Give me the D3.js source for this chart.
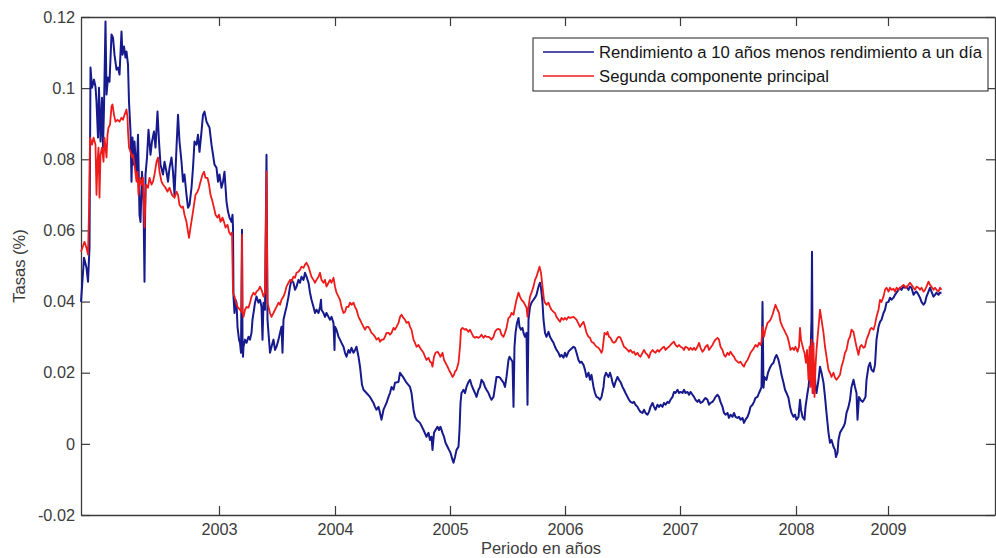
<!DOCTYPE html>
<html>
<head>
<meta charset="utf-8">
<script src="https://cdn.jsdelivr.net/npm/d3@7"></script>
<style>
  body { margin: 0; background: #fff; }
  svg { display: block; font-family: "Liberation Sans", Arial, Helvetica, sans-serif; }
</style>
</head>
<body>
<svg id="chart" width="996" height="558"></svg>
<script>
// Horizontal position is a trading-day counter starting in late 2001.
const dayRange = [0, 1828];
const yearTickDays = [276, 508, 738, 968, 1198, 1430, 1614];
const yearLabels = ["2003", "2004", "2005", "2006", "2007", "2008", "2009"];

const rateRange = [-0.02, 0.12];
const rateTicks = [0.12, 0.1, 0.08, 0.06, 0.04, 0.02, 0, -0.02];
const rateLabels = ["0.12", "0.1", "0.08", "0.06", "0.04", "0.02", "0", "-0.02"];

const seriesNames = [
  "Rendimiento a 10 años menos rendimiento a un día",
  "Segunda componente principal"
];
const seriesColors = ["#161a8c", "#ee1b1b"];

// 10-year minus overnight yield: [trading day, rate]
const spread = [[0,.0399],[6,.0523],[11,.0495],[14,.0456],[17,.0551],[19,.1058],[22,.1001],[26,.1024],[29,.1004],[31,.0962],[34,.0861],[36,.1001],[39,.0850],[42,.0973],[44,.0833],[46,.0945],[49,.1187],[51,.0982],[54,.1030],[57,.1018],[61,.1151],[64,.1142],[67,.1094],[71,.1052],[74,.1058],[77,.1038],[81,.1159],[83,.1094],[86,.1117],[89,.1086],[91,.1103],[94,.1066],[96,.0962],[99,.0878],[101,.0737],[103,.0861],[105,.0785],[107,.0850],[111,.0757],[114,.0869],[117,.0644],[119,.0624],[122,.0765],[125,.0681],[127,.0456],[129,.0757],[132,.0805],[135,.0883],[139,.0813],[142,.0850],[146,.0878],[149,.0833],[153,.0934],[156,.0850],[159,.0785],[164,.0757],[167,.0793],[171,.0765],[174,.0737],[177,.0776],[181,.0805],[184,.0765],[187,.0700],[191,.0833],[194,.0925],[197,.0850],[201,.0793],[204,.0737],[207,.0757],[211,.0700],[214,.0664],[217,.0672],[221,.0720],[224,.0776],[227,.0850],[231,.0841],[234,.0869],[237,.0821],[241,.0878],[244,.0925],[247,.0934],[251,.0906],[254,.0897],[257,.0889],[261,.0841],[264,.0813],[267,.0785],[271,.0776],[274,.0737],[277,.0757],[281,.0720],[284,.0737],[287,.0765],[291,.0681],[294,.0653],[297,.0636],[301,.0624],[303,.0644],[304,.0608],
[305,.0414],[307,.0368],[309,.0405],[311,.0397],[313,.0329],[316,.0293],[318,.0284],[320,.0256],[322,.0602],[323,.0293],[324,.0245],[325,.0273],[328,.0293],[331,.0284],[335,.0301],[338,.0293],[341,.0312],[343,.0349],[346,.0377],[348,.0397],[351,.0414],[355,.0397],[358,.0405],[361,.0385],[363,.0293],[365,.0397],[368,.0377],[371,.0813],[373,.0349],[376,.0293],[378,.0256],[381,.0273],[385,.0293],[388,.0264],[391,.0273],[395,.0293],[398,.0312],[401,.0329],[403,.0256],[405,.0349],[408,.0368],[411,.0385],[415,.0414],[418,.0442],[421,.0461],[425,.0453],[428,.0433],[431,.0442],[435,.0461],[438,.0453],[441,.0470],[445,.0461],[448,.0481],[451,.0470],[455,.0453],[458,.0425],[461,.0405],[465,.0385],[468,.0368],[471,.0377],[475,.0368],[478,.0385],[480,.0405],[481,.0377],[485,.0368],[488,.0357],[491,.0368],[495,.0357],[498,.0349],[501,.0357],[505,.0340],[507,.0264],[508,.0329],[511,.0321],[515,.0301],[518,.0293],[521,.0284],[525,.0273],[528,.0256],[531,.0245],[535,.0264],[538,.0256],[541,.0270],[545,.0256],[548,.0264],[551,.0273],[555,.0245],[558,.0217],[562,.0166],[565,.0152],[571,.0143],[578,.0132],[585,.0115],[588,.0104],[591,.0096],[595,.0104],[598,.0087],[601,.0068],[605,.0096],[611,.0115],[615,.0132],[618,.0143],[621,.0160],[625,.0152],[628,.0172],[635,.0174],[638,.0200],[645,.0186],[651,.0172],[658,.0160],[661,.0143],[665,.0096],[668,.0076],[671,.0068],[678,.0059],[685,.0039],[691,.0020],[695,.0031],[698,.0011],[701,.0020],[703,-.0017],[706,.0031],[709,.0039],[713,.0048],[716,.0039],[719,.0048],[723,.0031],[726,.0020],[729,.0003],[733,-.0008],[736,-.0017],[739,-.0025],[743,-.0045],[745,-.0053],[748,-.0037],[751,-.0017],[755,-.0008],[757,.0039],[759,.0115],[761,.0143],[765,.0152],[768,.0143],[771,.0160],[775,.0174],[778,.0180],[781,.0166],[785,.0152],[788,.0143],[791,.0132],[795,.0152],[798,.0160],[801,.0180],[805,.0172],[808,.0160],[811,.0152],[815,.0143],[818,.0132],[821,.0124],[825,.0132],[828,.0160],[831,.0188],[835,.0188],[838,.0186],[841,.0180],[845,.0172],[848,.0160],[851,.0188],[855,.0236],[857,.0245],[861,.0236],[863,.0231],[865,.0104],[867,.0273],[869,.0312],[872,.0340],[875,.0354],[877,.0329],[880,.0321],[883,.0326],[885,.0312],[888,.0301],[891,.0312],[893,.0110],[895,.0349],[898,.0385],[901,.0397],[905,.0405],[908,.0411],[911,.0419],[915,.0442],[918,.0453],[920,.0439],[923,.0397],[925,.0349],[928,.0312],[931,.0301],[935,.0315],[938,.0301],[941,.0293],[945,.0284],[948,.0273],[951,.0264],[955,.0256],[958,.0245],[961,.0250],[965,.0242],[968,.0256],[971,.0245],[975,.0259],[978,.0264],[985,.0273],[988,.0270],[991,.0256],[995,.0236],[998,.0228],[1001,.0231],[1005,.0222],[1008,.0208],[1011,.0188],[1015,.0200],[1018,.0180],[1021,.0194],[1025,.0160],[1028,.0143],[1031,.0132],[1035,.0129],[1038,.0124],[1041,.0132],[1045,.0160],[1047,.0188],[1050,.0200],[1055,.0188],[1058,.0200],[1061,.0186],[1063,.0172],[1066,.0160],[1069,.0174],[1073,.0188],[1076,.0180],[1079,.0174],[1083,.0160],[1086,.0152],[1089,.0143],[1093,.0132],[1096,.0124],[1099,.0118],[1103,.0115],[1106,.0118],[1109,.0110],[1113,.0104],[1116,.0096],[1119,.0090],[1123,.0087],[1126,.0096],[1129,.0087],[1133,.0082],[1136,.0090],[1139,.0104],[1143,.0115],[1146,.0104],[1149,.0096],[1153,.0110],[1156,.0104],[1159,.0110],[1163,.0104],[1166,.0115],[1169,.0110],[1173,.0118],[1176,.0115],[1179,.0124],[1183,.0132],[1186,.0146],[1189,.0143],[1193,.0152],[1196,.0143],[1199,.0146],[1203,.0143],[1206,.0152],[1209,.0143],[1213,.0146],[1216,.0138],[1219,.0146],[1223,.0138],[1226,.0132],[1229,.0124],[1233,.0118],[1236,.0124],[1239,.0115],[1243,.0118],[1246,.0124],[1249,.0129],[1253,.0124],[1256,.0110],[1259,.0115],[1263,.0118],[1266,.0124],[1269,.0132],[1273,.0138],[1276,.0132],[1279,.0118],[1283,.0104],[1286,.0087],[1289,.0082],[1293,.0087],[1296,.0073],[1299,.0082],[1303,.0076],[1306,.0087],[1309,.0076],[1313,.0073],[1316,.0076],[1319,.0068],[1323,.0073],[1326,.0059],[1329,.0068],[1333,.0076],[1336,.0087],[1339,.0104],[1343,.0110],[1346,.0118],[1349,.0129],[1353,.0132],[1356,.0143],[1359,.0152],[1361,.0160],[1363,.0399],[1365,.0158],[1367,.0188],[1371,.0180],[1374,.0200],[1378,.0214],[1381,.0222],[1385,.0228],[1388,.0242],[1391,.0250],[1395,.0236],[1398,.0217],[1401,.0194],[1405,.0172],[1408,.0152],[1411,.0143],[1415,.0129],[1418,.0104],[1421,.0087],[1425,.0076],[1428,.0082],[1431,.0068],[1435,.0076],[1438,.0124],[1440,.0096],[1443,.0076],[1447,.0068],[1449,.0104],[1453,.0143],[1455,.0160],[1458,.0200],[1461,.0349],[1462,.0540],[1463,.0293],[1465,.0143],[1467,.0217],[1469,.0160],[1471,.0143],[1475,.0180],[1478,.0217],[1481,.0200],[1485,.0172],[1488,.0132],[1491,.0087],[1495,.0031],[1498,.0003],[1501,.0011],[1505,-.0008],[1508,-.0017],[1510,-.0037],[1513,-.0025],[1515,.0011],[1518,.0031],[1521,.0039],[1525,.0048],[1528,.0059],[1531,.0087],[1535,.0104],[1538,.0124],[1541,.0160],[1545,.0180],[1548,.0160],[1551,.0143],[1553,.0068],[1556,.0132],[1559,.0124],[1563,.0118],[1566,.0124],[1569,.0132],[1571,.0180],[1575,.0217],[1578,.0228],[1581,.0208],[1585,.0203],[1588,.0222],[1591,.0293],[1595,.0329],[1598,.0343],[1601,.0349],[1605,.0368],[1608,.0377],[1611,.0397],[1615,.0399],[1618,.0411],[1621,.0405],[1625,.0411],[1628,.0419],[1631,.0425],[1635,.0433],[1638,.0439],[1641,.0433],[1645,.0442],[1648,.0439],[1651,.0442],[1655,.0433],[1658,.0442],[1661,.0439],[1665,.0419],[1668,.0425],[1671,.0428],[1675,.0419],[1678,.0411],[1681,.0399],[1685,.0391],[1688,.0397],[1691,.0414],[1695,.0428],[1698,.0439],[1701,.0428],[1705,.0414],[1708,.0419],[1711,.0425],[1715,.0419],[1718,.0425],[1721,.0425]];

// Second principal component: [trading day, rate]
const component = [[0,.0540],[7,.0568],[11,.0551],[14,.0532],[16,.0653],[18,.0861],[22,.0841],[25,.0861],[29,.0841],[31,.0700],[33,.0793],[35,.0833],[37,.0692],[39,.0813],[42,.0833],[45,.0793],[47,.0861],[51,.0805],[53,.0869],[55,.0889],[58,.0897],[61,.0948],[63,.0954],[66,.0925],[69,.0906],[73,.0911],[77,.0906],[81,.0917],[84,.0911],[87,.0925],[91,.0940],[93,.0917],[94,.0878],[96,.0833],[99,.0821],[102,.0805],[104,.0813],[107,.0785],[111,.0737],[113,.0765],[115,.0700],[118,.0748],[121,.0729],[124,.0748],[127,.0608],[130,.0729],[134,.0720],[137,.0748],[141,.0729],[144,.0737],[147,.0757],[151,.0793],[154,.0805],[157,.0765],[161,.0737],[164,.0729],[169,.0720],[173,.0709],[177,.0720],[182,.0700],[187,.0692],[191,.0709],[194,.0700],[197,.0672],[201,.0664],[204,.0667],[207,.0644],[211,.0624],[214,.0596],[216,.0579],[219,.0608],[223,.0644],[226,.0672],[229,.0700],[233,.0709],[236,.0720],[239,.0737],[243,.0757],[246,.0765],[249,.0748],[253,.0748],[256,.0729],[259,.0700],[263,.0681],[266,.0664],[269,.0644],[273,.0636],[276,.0644],[279,.0624],[283,.0636],[286,.0624],[289,.0608],[293,.0616],[296,.0596],[299,.0588],[302,.0594],[304,.0425],[307,.0414],[310,.0397],[313,.0385],[318,.0377],[321,.0371],[322,.0588],[323,.0371],[325,.0357],[328,.0377],[331,.0385],[335,.0383],[338,.0397],[341,.0414],[345,.0425],[348,.0419],[351,.0428],[355,.0433],[358,.0442],[361,.0433],[365,.0414],[368,.0425],[371,.0765],[373,.0397],[375,.0385],[378,.0368],[381,.0357],[385,.0368],[388,.0377],[391,.0385],[395,.0397],[398,.0391],[401,.0405],[405,.0414],[408,.0425],[411,.0442],[415,.0453],[418,.0461],[421,.0456],[425,.0470],[428,.0467],[431,.0481],[435,.0484],[438,.0489],[441,.0498],[445,.0495],[448,.0504],[451,.0509],[455,.0498],[458,.0484],[461,.0470],[465,.0461],[468,.0453],[471,.0461],[475,.0470],[478,.0481],[481,.0461],[485,.0453],[488,.0461],[491,.0442],[495,.0453],[498,.0461],[501,.0453],[505,.0467],[508,.0442],[511,.0425],[515,.0414],[518,.0405],[521,.0385],[525,.0368],[528,.0371],[531,.0385],[535,.0385],[538,.0397],[541,.0391],[545,.0397],[548,.0385],[551,.0377],[555,.0357],[558,.0349],[561,.0340],[565,.0329],[568,.0321],[571,.0329],[575,.0329],[578,.0321],[581,.0312],[585,.0307],[588,.0301],[591,.0293],[595,.0298],[598,.0287],[601,.0293],[605,.0293],[608,.0301],[611,.0312],[615,.0312],[618,.0307],[621,.0312],[625,.0326],[628,.0321],[631,.0329],[635,.0340],[638,.0357],[641,.0363],[645,.0354],[648,.0349],[651,.0340],[655,.0343],[658,.0329],[661,.0321],[665,.0293],[668,.0284],[671,.0273],[675,.0278],[678,.0270],[681,.0264],[685,.0256],[688,.0245],[691,.0236],[695,.0242],[698,.0231],[701,.0228],[703,.0217],[706,.0245],[709,.0256],[713,.0259],[716,.0253],[719,.0245],[723,.0256],[726,.0236],[729,.0228],[733,.0217],[736,.0208],[739,.0200],[743,.0188],[746,.0194],[748,.0203],[751,.0208],[755,.0228],[758,.0273],[760,.0321],[763,.0326],[768,.0321],[770,.0323],[775,.0315],[778,.0321],[781,.0312],[785,.0301],[788,.0298],[791,.0301],[795,.0298],[798,.0301],[801,.0307],[805,.0298],[808,.0304],[811,.0301],[815,.0301],[818,.0298],[821,.0293],[825,.0301],[828,.0315],[831,.0321],[835,.0323],[838,.0321],[841,.0307],[845,.0301],[848,.0312],[851,.0326],[855,.0354],[858,.0357],[861,.0368],[865,.0363],[868,.0385],[871,.0405],[875,.0425],[878,.0414],[881,.0405],[885,.0399],[888,.0391],[891,.0383],[893,.0357],[895,.0385],[898,.0414],[901,.0425],[905,.0442],[908,.0461],[911,.0470],[915,.0489],[917,.0498],[920,.0481],[923,.0442],[926,.0405],[928,.0397],[931,.0391],[935,.0397],[938,.0385],[941,.0377],[945,.0371],[948,.0368],[951,.0357],[955,.0349],[958,.0343],[961,.0354],[965,.0349],[968,.0354],[971,.0349],[975,.0357],[978,.0354],[985,.0357],[991,.0349],[998,.0329],[1005,.0343],[1008,.0329],[1011,.0312],[1015,.0301],[1018,.0298],[1021,.0287],[1025,.0284],[1028,.0278],[1031,.0273],[1035,.0270],[1038,.0264],[1041,.0256],[1043,.0264],[1047,.0312],[1051,.0307],[1053,.0315],[1056,.0301],[1059,.0298],[1063,.0287],[1066,.0284],[1069,.0287],[1073,.0298],[1076,.0301],[1079,.0298],[1083,.0284],[1086,.0273],[1089,.0270],[1093,.0264],[1096,.0259],[1099,.0264],[1103,.0256],[1106,.0259],[1109,.0250],[1113,.0256],[1116,.0248],[1119,.0245],[1123,.0256],[1126,.0264],[1129,.0256],[1133,.0250],[1136,.0242],[1139,.0256],[1143,.0264],[1146,.0259],[1149,.0256],[1153,.0264],[1156,.0259],[1159,.0264],[1163,.0270],[1166,.0273],[1169,.0264],[1173,.0270],[1176,.0273],[1179,.0278],[1183,.0284],[1186,.0287],[1189,.0278],[1193,.0273],[1196,.0278],[1199,.0273],[1203,.0270],[1206,.0264],[1209,.0273],[1213,.0270],[1216,.0264],[1219,.0270],[1223,.0264],[1226,.0270],[1229,.0264],[1233,.0273],[1236,.0284],[1239,.0270],[1243,.0259],[1246,.0264],[1249,.0273],[1253,.0278],[1256,.0264],[1259,.0270],[1263,.0278],[1266,.0287],[1269,.0293],[1273,.0298],[1276,.0293],[1279,.0273],[1283,.0264],[1286,.0250],[1289,.0245],[1293,.0256],[1296,.0250],[1299,.0259],[1303,.0250],[1306,.0245],[1309,.0236],[1313,.0231],[1316,.0228],[1319,.0231],[1323,.0222],[1326,.0217],[1329,.0228],[1333,.0236],[1336,.0245],[1339,.0256],[1343,.0264],[1346,.0270],[1349,.0278],[1353,.0273],[1356,.0284],[1359,.0278],[1361,.0287],[1363,.0329],[1366,.0301],[1369,.0321],[1373,.0340],[1376,.0343],[1379,.0349],[1383,.0363],[1386,.0377],[1389,.0391],[1393,.0377],[1396,.0368],[1399,.0343],[1403,.0329],[1406,.0321],[1409,.0312],[1413,.0301],[1416,.0284],[1419,.0264],[1423,.0270],[1426,.0264],[1429,.0273],[1433,.0259],[1436,.0273],[1438,.0326],[1440,.0293],[1445,.0264],[1447,.0256],[1450,.0228],[1452,.0264],[1455,.0180],[1457,.0273],[1459,.0160],[1461,.0293],[1463,.0143],[1465,.0284],[1467,.0132],[1469,.0217],[1471,.0264],[1475,.0329],[1478,.0377],[1481,.0349],[1485,.0312],[1488,.0273],[1491,.0245],[1495,.0208],[1498,.0200],[1501,.0188],[1505,.0200],[1508,.0186],[1511,.0180],[1515,.0188],[1518,.0194],[1521,.0217],[1525,.0236],[1528,.0256],[1531,.0264],[1535,.0293],[1538,.0301],[1541,.0321],[1545,.0315],[1548,.0293],[1551,.0273],[1555,.0250],[1558,.0273],[1561,.0278],[1565,.0270],[1568,.0273],[1571,.0293],[1575,.0307],[1578,.0321],[1581,.0326],[1585,.0321],[1588,.0335],[1591,.0357],[1595,.0377],[1598,.0405],[1601,.0399],[1605,.0414],[1608,.0433],[1611,.0439],[1615,.0428],[1618,.0439],[1621,.0433],[1625,.0436],[1628,.0428],[1631,.0439],[1635,.0433],[1638,.0439],[1641,.0442],[1645,.0447],[1648,.0442],[1651,.0439],[1655,.0447],[1658,.0453],[1661,.0447],[1665,.0439],[1668,.0433],[1671,.0442],[1675,.0439],[1678,.0433],[1681,.0439],[1685,.0428],[1688,.0433],[1691,.0442],[1695,.0456],[1698,.0447],[1701,.0442],[1705,.0433],[1708,.0439],[1711,.0433],[1715,.0428],[1718,.0439],[1721,.0433]];

const svg = d3.select("#chart");
const margin = { left: 81, right: 1, top: 17, bottom: 43 };
const W = +svg.attr("width"), H = +svg.attr("height");
const x0 = margin.left, x1 = W - margin.right;
const y0 = margin.top, y1 = H - margin.bottom;

const x = d3.scaleLinear().domain(dayRange).range([x0, x1]);
const y = d3.scaleLinear().domain(rateRange).range([y1, y0]);

const tickLen = 9;
const axisColor = "#3a3a3a";
const labelColor = "#3c3c3c";
const fontSize = 16.3;

function styleAxis(g) {
  g.select(".domain").attr("stroke", axisColor).attr("stroke-width", 1.3);
  g.selectAll(".tick line").attr("stroke", axisColor).attr("stroke-width", 1.2);
  g.selectAll(".tick text").attr("fill", labelColor).attr("font-size", fontSize)
    .attr("font-family", "\"Liberation Sans\", Arial, sans-serif");
}

// Bottom axis with year labels, ticks pointing inward
svg.append("g")
  .attr("transform", `translate(0,${y1})`)
  .call(d3.axisBottom(x).tickValues(yearTickDays)
    .tickFormat((d, i) => yearLabels[i])
    .tickSizeInner(-tickLen).tickSizeOuter(0).tickPadding(8))
  .call(styleAxis);

// Top frame edge
svg.append("g")
  .attr("transform", `translate(0,${y0})`)
  .call(d3.axisTop(x).tickValues(yearTickDays).tickFormat("")
    .tickSizeInner(-tickLen).tickSizeOuter(0))
  .call(styleAxis);

// Left axis with rate labels
svg.append("g")
  .attr("transform", `translate(${x0},0)`)
  .call(d3.axisLeft(y).tickValues(rateTicks)
    .tickFormat((d, i) => rateLabels[i])
    .tickSizeInner(-tickLen).tickSizeOuter(0).tickPadding(6))
  .call(styleAxis);

// Right frame edge
svg.append("g")
  .attr("transform", `translate(${x1},0)`)
  .call(d3.axisRight(y).tickValues(rateTicks).tickFormat("")
    .tickSizeInner(-tickLen).tickSizeOuter(0))
  .call(styleAxis);

// Series
const line = d3.line().x(d => x(d[0])).y(d => y(d[1]));

svg.append("path")
  .datum(spread)
  .attr("fill", "none")
  .attr("stroke", seriesColors[0])
  .attr("stroke-width", 2)
  .attr("stroke-linejoin", "round")
  .attr("d", line);

svg.append("path")
  .datum(component)
  .attr("fill", "none")
  .attr("stroke", seriesColors[1])
  .attr("stroke-width", 1.8)
  .attr("stroke-linejoin", "round")
  .attr("d", line);

// Axis titles
svg.append("text")
  .attr("x", (x0 + x1) / 2 + 3)
  .attr("y", 554)
  .attr("text-anchor", "middle")
  .attr("font-size", 16.5)
  .attr("fill", labelColor)
  .text("Periodo en años");

svg.append("text")
  .attr("transform", `translate(25,${(y0 + y1) / 2}) rotate(-90)`)
  .attr("text-anchor", "middle")
  .attr("font-size", 16.5)
  .attr("fill", labelColor)
  .text("Tasas (%)");

// Legend
const legend = svg.append("g").attr("transform", "translate(533,38)");
legend.append("rect")
  .attr("width", 455).attr("height", 53)
  .attr("fill", "#fff").attr("stroke", "#444").attr("stroke-width", 1.2);

seriesNames.forEach((name, i) => {
  const row = legend.append("g").attr("transform", `translate(0,${14 + i * 24})`);
  row.append("line")
    .attr("x1", 10).attr("x2", 61)
    .attr("stroke", seriesColors[i]).attr("stroke-width", 1.3);
  row.append("text")
    .attr("x", 66).attr("dy", "0.35em")
    .attr("font-size", 16.7)
    .attr("fill", "#151515")
    .text(name);
});
</script>
</body>
</html>
